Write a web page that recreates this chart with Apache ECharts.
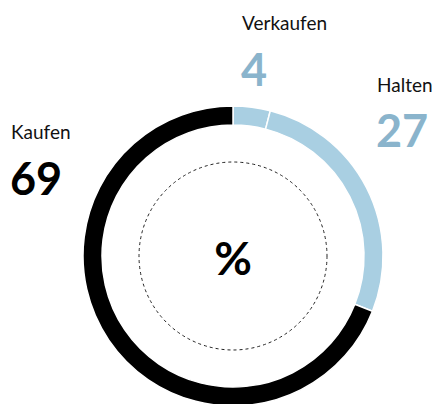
<!DOCTYPE html>
<html lang="de" style="height: 100%">
<head>
    <meta charset="utf-8">
    <title>ECharts</title>
    <script src="https://cdn.jsdelivr.net/npm/echarts@6/dist/echarts.min.js"></script>
</head>
<body style="height: 100%; margin: 0; background: #fff">
<div id="main" style="width:434px;height:404px"></div>
<script type="text/javascript">
    // Daten
    var categories = ['Verkaufen', 'Halten', 'Kaufen'];
    var values = [4, 27, 69];
    var colors = ['#a9cfe2', '#a9cfe2', '#000000'];
    var numberColors = ['#8ab4cc', '#8ab4cc', '#000000'];
    var centerLabel = '%';

    // Positionen der Beschriftungen (x links, Grundlinie Name, Grundlinie Zahl)
    var labelPos = [
        [242, 29, 83],
        [377, 91, 144],
        [11, 138, 192]
    ];

    var FONT = 'Lato, "Noto Sans", sans-serif';
    var chart = echarts.init(document.getElementById('main'), null, {renderer: 'svg'});

    var pieData = [];
    var graphics = [];
    for (var i = 0; i < categories.length; i++) {
        pieData.push({
            name: categories[i],
            value: values[i],
            itemStyle: {color: colors[i]}
        });
        graphics.push({
            type: 'text',
            left: labelPos[i][0],
            top: labelPos[i][1] - 16,
            style: {
                text: categories[i],
                font: '400 19px ' + FONT,
                fill: '#111'
            }
        });
        graphics.push({
            type: 'text',
            left: labelPos[i][0] - 1,
            top: labelPos[i][2] - 37,
            style: {
                text: String(values[i]),
                font: '700 45px ' + FONT,
                fill: numberColors[i]
            }
        });
    }

    // gestrichelter Innenkreis
    graphics.push({
        type: 'circle',
        shape: {cx: 233, cy: 256, r: 94},
        style: {fill: 'none', stroke: '#222', lineWidth: 1, lineDash: [3, 3]},
        silent: true
    });
    graphics.push({
        type: 'text',
        x: 233,
        y: 257,
        style: {
            text: centerLabel,
            font: '700 46px ' + FONT,
            fill: '#000',
            align: 'center',
            verticalAlign: 'middle'
        }
    });

    var option = {
        animation: false,
        series: [{
            type: 'pie',
            center: [233, 256],
            radius: [131, 150],
            startAngle: 90,
            clockwise: true,
            label: {show: false},
            labelLine: {show: false},
            itemStyle: {borderColor: '#fff', borderWidth: 1.5},
            data: pieData
        }],
        graphic: graphics
    };
    chart.setOption(option);
</script>
</body>
</html>
